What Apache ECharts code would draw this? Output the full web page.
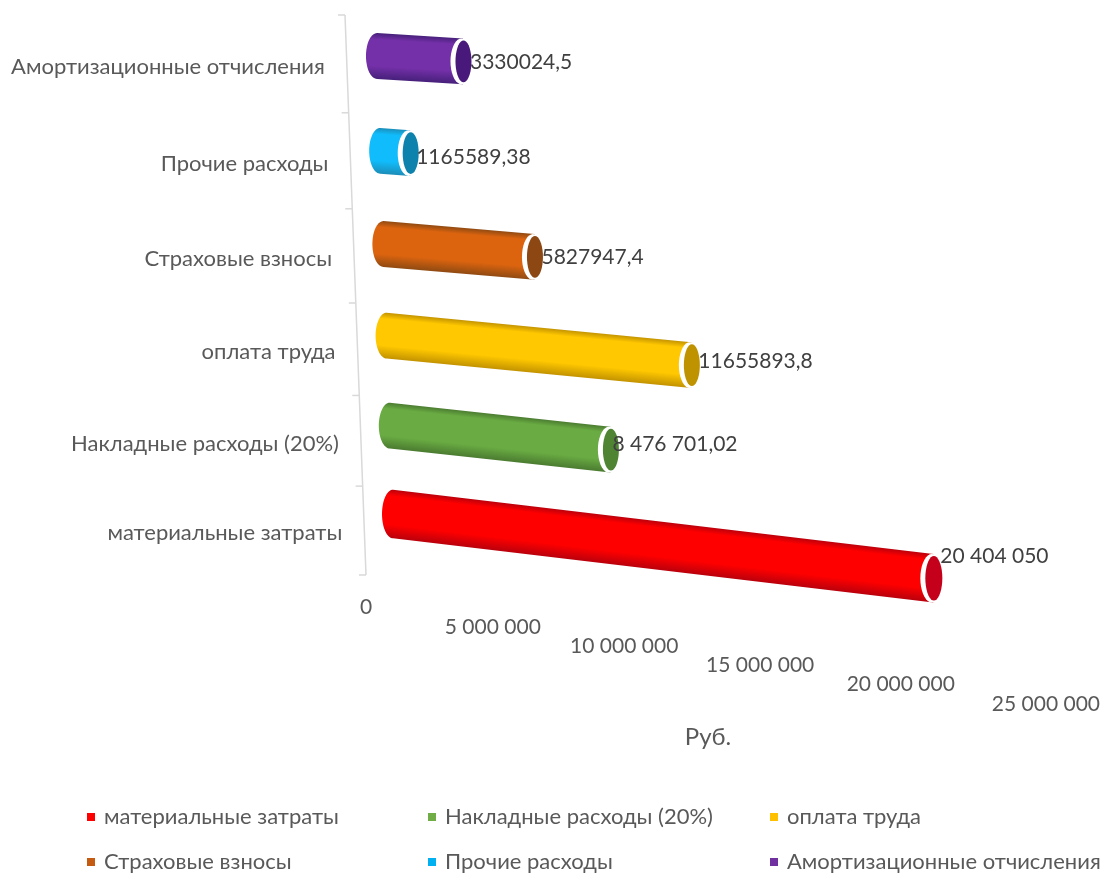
<!DOCTYPE html>
<html><head><meta charset="utf-8">
<style>html,body{margin:0;padding:0;background:#fff}#c{width:1106px;height:873px}</style>
<script src="https://cdn.jsdelivr.net/npm/echarts@6/dist/echarts.min.js"></script>
</head><body><div id="c"></div>
<script>
const categories = ['материальные затраты','Накладные расходы (20%)','оплата труда','Страховые взносы','Прочие расходы','Амортизационные отчисления'];
const values = [20404050, 8476701.02, 11655893.8, 5827947.4, 1165589.38, 3330024.5];
const valueLabels = ['20 404 050','8 476 701,02','11655893,8','5827947,4','1165589,38','3330024,5'];
const tickValues = [0, 5000000, 10000000, 15000000, 20000000, 25000000];
const tickLabels = ['0','5 000 000','10 000 000','15 000 000','20 000 000','25 000 000'];
const axisTitle = 'Руб.';
const legendColors = ['#ff0000','#70ad47','#ffc000','#c55a11','#00b0f0','#7030a0'];
const bodyColors = ['#ff0000','#6aac43','#ffc800','#dc640f','#10bcfb','#7430a8'];
const edgeColors = ['#b8000c','#4a7a30','#c29200','#8f4a12','#1c8db8','#46207a'];
const capColors = ['#c4001a','#4f8433','#bf9300','#8c4712','#0d82ad','#48187a'];

const FONT = 'Lato, "Noto Sans", sans-serif';
const GRID = {left:393, top:10.2, width:642.5, height:549.6};
const labelShift = [[7,-22],[2,-5],[7,-4],[7,0],[6,4],[7,1]];

// 3-D look of the plot: a perspective shear of the plain cartesian pixel position
function project(px, py){
  const t=(py-56)/458, u=px-GRID.left;
  return [GRID.left+(py-514)*0.035+u+5.8e-5*u*u, py+20*t*(1-t)+u*(0.0625+0.06*t)];
}
function axisPoint(py){
  const t=(py-GRID.top)/GRID.height;
  const y=py+4.8+42.4*t-32*t*t;
  return [345+(y-15)*0.0375,y];
}
function ellipse(cx,cy,rx,ry,a0,a1){
  const pts=[],n=36;
  for(let i=0;i<=n;i++){const a=a0+(a1-a0)*i/n;pts.push([cx+rx*Math.cos(a),cy+ry*Math.sin(a)]);}
  return pts;
}
function cylinder(i){
  return function(params,api){
    const v=api.value(0), row=api.value(1);
    const c0=api.coord([0,row]), c1=api.coord([v,row]);
    const a=project(c0[0],c0[1]), b=project(c1[0],c1[1]);
    const ry=api.size([0,1])[1]*(i===0?0.265:0.25), rx=i===0?9:8.5;
    const slope=(b[1]-a[1])/(b[0]-a[0]);
    const mx=(a[0]+b[0])/2,my=(a[1]+b[1])/2;
    const grad=new echarts.graphic.LinearGradient(mx+slope*ry,my-ry,mx-slope*ry,my+ry,[
      {offset:0,color:edgeColors[i]},{offset:0.14,color:bodyColors[i]},{offset:0.72,color:bodyColors[i]},
      {offset:1,color:edgeColors[i]}],true);
    const body=ellipse(a[0],a[1],11,ry,Math.PI*1.5,Math.PI*0.5)
      .concat([[b[0],b[1]+ry],[b[0],b[1]-ry]]);
    const shift=labelShift[i];
    return {type:'group',silent:true,children:[
      {type:'polygon',shape:{points:body},style:{fill:grad}},
      {type:'polygon',shape:{points:ellipse(b[0]-1.5,b[1],rx+2.5,ry,0,Math.PI*2)},style:{fill:'#fff'}},
      {type:'polygon',shape:{points:ellipse(b[0]+0.5,b[1],rx-0.5,ry-2,0,Math.PI*2)},style:{fill:capColors[i]}},
      {type:'text',z2:5,style:{text:valueLabels[i],x:b[0]+shift[0],y:b[1]+shift[1],textAlign:'left',textVerticalAlign:'middle',font:'21px '+FONT,fill:'#404040'}}
    ]};
  };
}
function axisRender(params,api){
  const kids=[],pts=[];
  const bandH=api.size([0,1])[1];
  const y0=api.coord([0,0])[1]+bandH/2;
  for(let k=0;k<=categories.length;k++){
    const p=axisPoint(y0-k*bandH);pts.push(p);
    kids.push({type:'line',shape:{x1:p[0]-7,y1:p[1],x2:p[0],y2:p[1]},style:{stroke:'#d9d9d9',lineWidth:1.5}});
  }
  kids.push({type:'polyline',shape:{points:pts},style:{stroke:'#d9d9d9',lineWidth:1.5,fill:null}});
  categories.forEach(function(name,i){
    const p=axisPoint(api.coord([0,i])[1]);
    kids.push({type:'text',style:{text:name,x:p[0]-22,y:p[1]+2.5,textAlign:'right',textVerticalAlign:'middle',font:'22px '+FONT,fill:'#595959'}});
  });
  tickValues.forEach(function(v,i){
    const u=(api.coord([v,0])[0]-GRID.left)*0.969;
    kids.push({type:'text',style:{text:tickLabels[i],x:366+u+1.48e-4*u*u,y:607.5+u*0.155,textAlign:'center',textVerticalAlign:'middle',font:'21px '+FONT,fill:'#595959'}});
  });
  return {type:'group',silent:true,children:kids};
}
const series=categories.map(function(name,i){
  return {name:name,type:'custom',clip:false,coordinateSystem:'cartesian2d',
    itemStyle:{color:legendColors[i]},renderItem:cylinder(i),
    encode:{x:0,y:1},data:[[values[i],i]]};
});
series.unshift({name:'axis',type:'custom',clip:false,renderItem:axisRender,data:[[0,0]],encode:{x:0,y:1}});
const legendBase={orient:'vertical',icon:'rect',itemWidth:8,itemHeight:8,itemGap:23,top:806,height:67,padding:[0,0,0,0],
  textStyle:{fontFamily:FONT,fontSize:22,lineHeight:22,color:'#595959',padding:[0,0,0,4]},selectedMode:false};
const chart=echarts.init(document.getElementById('c'),null,{renderer:'canvas'});
chart.setOption({
  animation:false,backgroundColor:'#fff',
  grid:Object.assign({containLabel:false},GRID),
  title:{text:axisTitle,left:708,top:725,padding:0,textAlign:'center',textStyle:{fontFamily:FONT,fontSize:24,fontWeight:'normal',color:'#595959'}},
  xAxis:{type:'value',min:0,max:25000000,interval:5000000,show:false},
  yAxis:{type:'category',data:categories,show:false},
  legend:[
    Object.assign({},legendBase,{left:87,data:[categories[0],categories[3]]}),
    Object.assign({},legendBase,{left:428,data:[categories[1],categories[4]]}),
    Object.assign({},legendBase,{left:770,data:[categories[2],categories[5]]})
  ],
  series:series
});
</script></body></html>
